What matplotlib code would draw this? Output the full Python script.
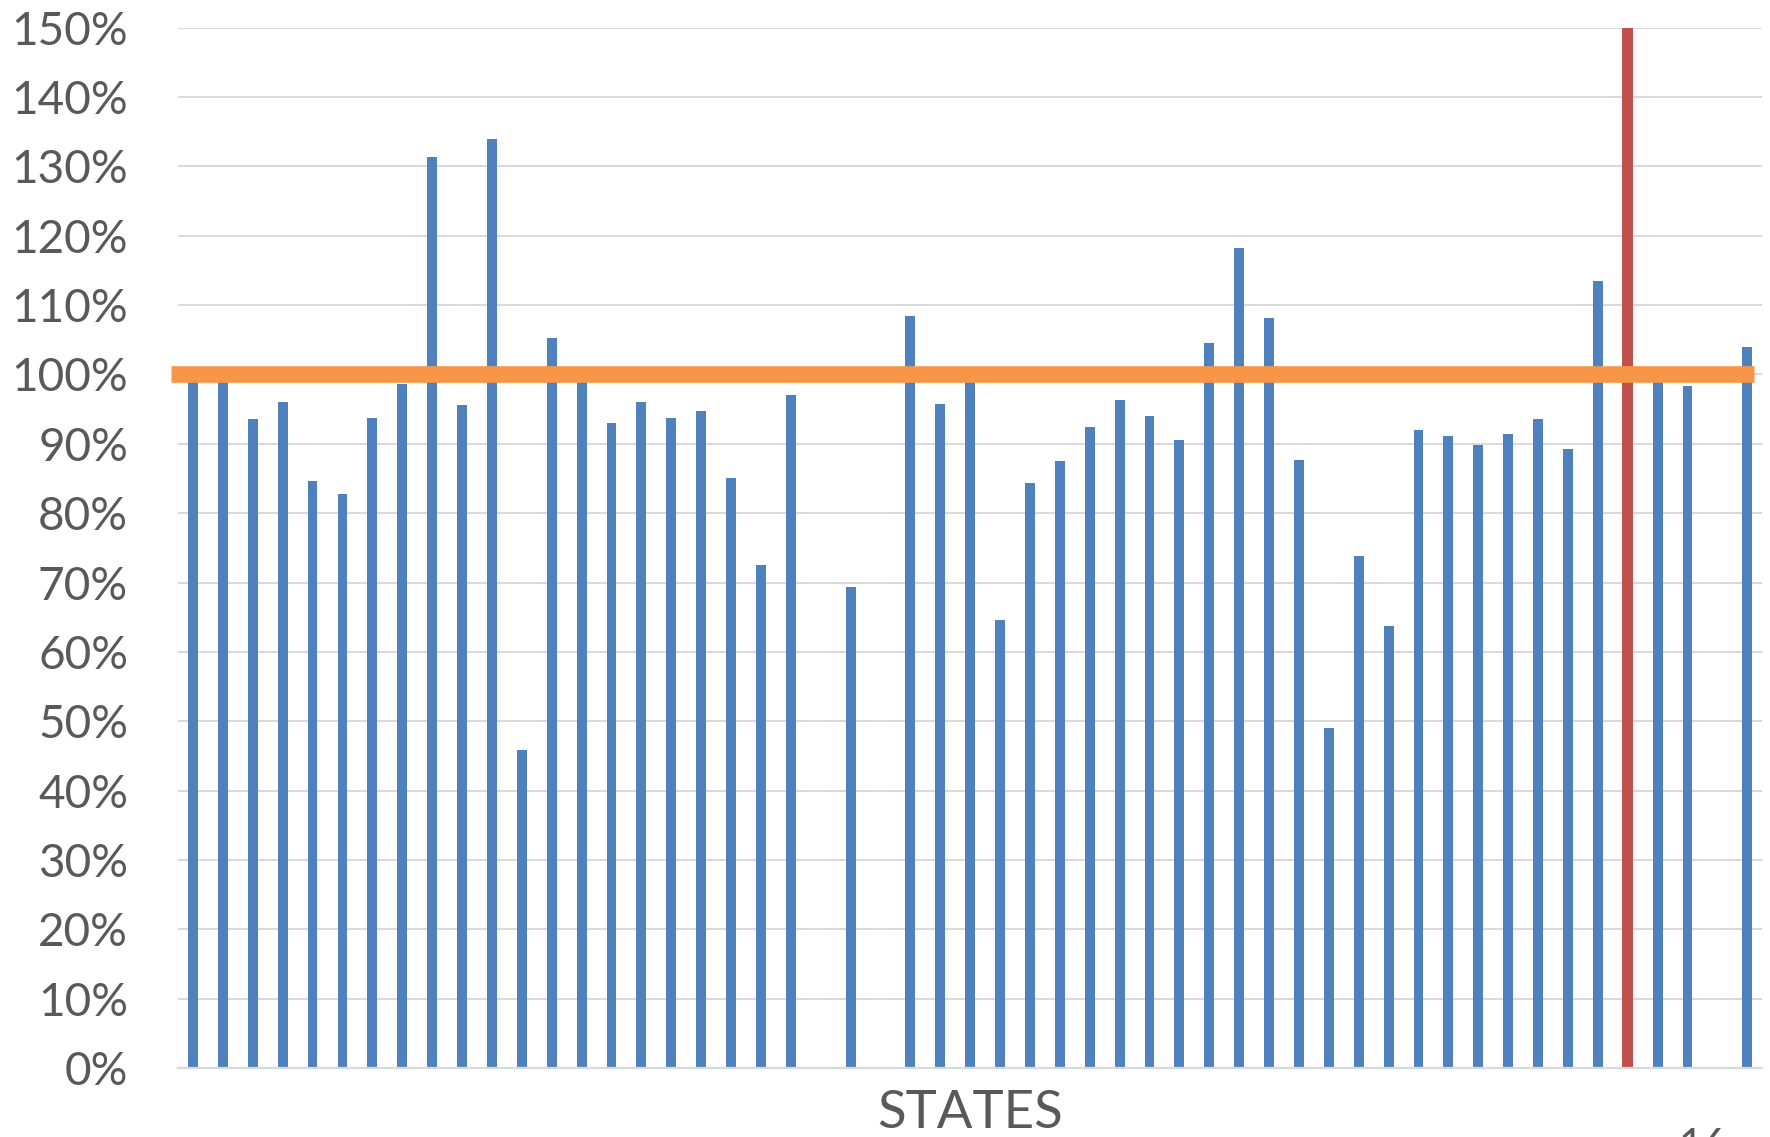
import numpy as np
import matplotlib.pyplot as plt
from matplotlib.ticker import FuncFormatter

# percent of target per state (no state names shown on the slide)
values = [100, 100, 93.6, 96.0, 84.6, 82.7, 93.7, 98.6, 131.4, 95.6,
          134.0, 45.8, 105.3, 100, 93.0, 96.1, 93.7, 94.8, 85.1, 72.6,
          97.1, np.nan, 69.4, np.nan, 108.5, 95.8, 100, 64.6, 84.3, 87.5,
          92.4, 96.3, 94.0, 90.6, 104.5, 118.2, 108.2, 87.7, 49.0, 73.8,
          63.7, 92.0, 91.1, 89.8, 91.4, 93.6, 89.2, 113.5, 150.0, 100,
          98.3, np.nan, 104.0]
highlight = 48
target = 100
yticks = list(range(0, 151, 10))

blue = '#4F81BD'
red = '#C0504D'
orange = '#F79646'
grey_text = '#595959'

fig = plt.figure(figsize=(17.7, 11.37), dpi=100)
ax = fig.add_axes([0.1006, 0.0607, 0.895, 0.9149])

x = np.arange(len(values))
colors = [red if i == highlight else blue for i in x]
widths = [0.36 if i == highlight else 0.33 for i in x]
ax.bar(x, np.nan_to_num(values), width=widths, color=colors, zorder=2)

# target line, runs a bit past the plot area like the slide shape
ax.plot([-0.74, len(values) - 0.76], [target, target], color=orange,
        linewidth=12, solid_capstyle='butt', clip_on=False, zorder=3)

ax.set_xlim(-0.5, len(values) - 0.5)
ax.set_ylim(0, 150)
ax.set_yticks(yticks)
ax.yaxis.set_major_formatter(FuncFormatter(lambda v, p: '%d%%' % v))
ax.set_xticks([])
ax.grid(axis='y', color='#D9D9D9', linewidth=1.4, zorder=0)
for side in ['top', 'right', 'left']:
  ax.spines[side].set_visible(False)
ax.spines['bottom'].set_color('#D9D9D9')
ax.spines['bottom'].set_linewidth(1.6)
ax.tick_params(axis='y', length=0, pad=36, labelsize=33, labelcolor=grey_text)
for lbl in ax.get_yticklabels():
  lbl.set_fontfamily('Lato')

ax.set_xlabel('STATES', fontsize=38, color=grey_text, family='Lato', labelpad=16)

# slide number, mostly cut off at the bottom edge like on the slide
fig.text(0.962, 1 - 1128 / 1137, '16', fontsize=30, color=grey_text,
         family='Lato', ha='center', va='top')

fig.savefig('out.png', dpi=100)
